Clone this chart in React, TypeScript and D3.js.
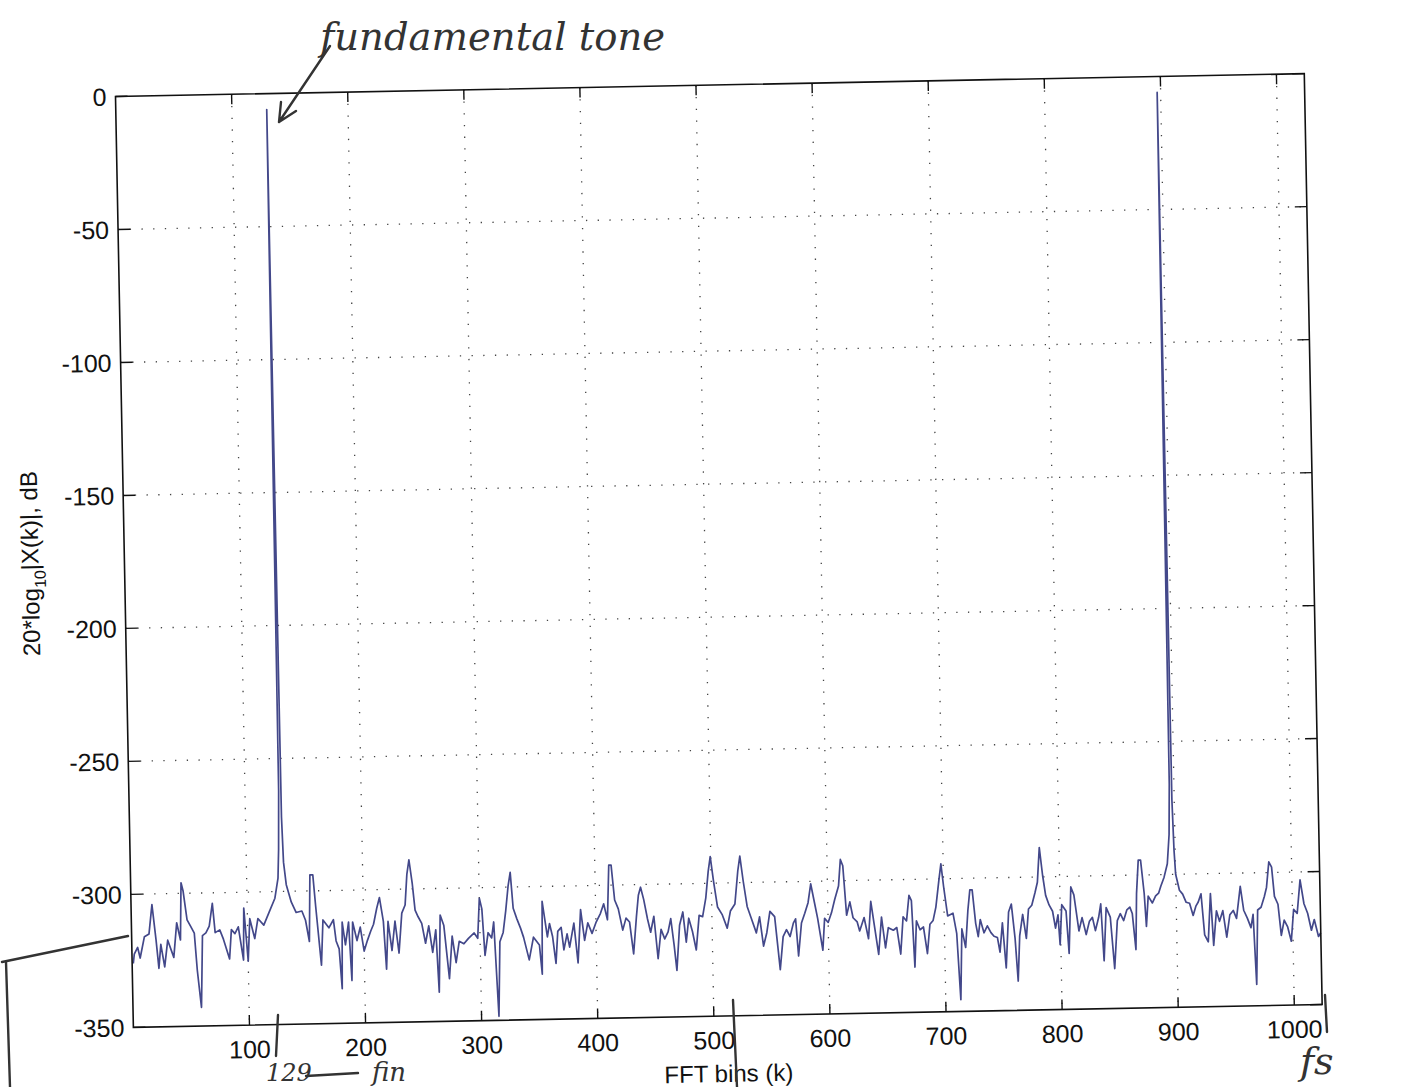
import React from 'react';
import * as d3 from 'd3';

// axis ticks
const xTicks = [100, 200, 300, 400, 500, 600, 700, 800, 900, 1000];
const yTicks = [0, -50, -100, -150, -200, -250, -300, -350];

// the two tones (fundamental + its mirror image)
const toneBins = [130, 897];
const toneDb = [-6, -6];

// noise floor, [bin, dB]
const floorA: [number, number][] = [
  [1, -326], [2, -322.5], [5, -320], [7, -324], [11, -316], [15, -315], [18, -304], [21, -317.5],
  [23, -328], [25, -319], [28, -327.5], [31, -317.5], [36, -324], [39, -311], [42, -317.5],
  [43.4, -296], [45, -299], [48, -310], [51, -312.5], [54, -315], [56, -329], [59, -343], [61, -316],
  [64, -315], [67, -312.5], [70, -304], [72, -315], [76, -314], [79, -317.5], [84, -325], [86, -314],
  [89, -315.5], [92, -313], [96, -325.5], [97, -306], [100, -326], [102, -310], [106, -317.5],
  [109, -310], [114, -312.5], [119, -307.5], [124, -302.5], [127, -295], [128, -284], [129, -262],
  [131, -272], [132, -289], [134, -297.5], [138, -304], [142, -308], [147, -307.5], [150, -311],
  [153, -319], [154.5, -294], [157, -294], [159, -306], [163, -328], [165, -311], [170, -314], [174, -311],
];

const floorB: [number, number][] = [
  [176, -319], [178.5, -322], [180.5, -337], [181.5, -312], [184, -320.5], [187, -312], [189, -334],
  [190.5, -312], [194, -319], [197, -314], [200, -323], [203, -319], [206, -315.5], [208.5, -313],
  [211.5, -307], [214, -303], [217, -312], [219, -330], [221, -312], [224, -323], [227, -312],
  [230, -324], [233, -309], [236, -306], [238, -294.5], [240, -289], [242.5, -298], [244.5, -308],
  [247, -310.5], [250, -313], [253, -320.5], [256, -314], [259, -324], [262, -315.5], [264, -339],
  [266, -310], [269, -314], [273, -334], [276, -318], [279, -328], [282, -320], [286, -321],
  [290, -319], [295, -317], [298, -319], [300, -304], [302, -308], [304, -325.5], [307, -317],
  [310, -319], [312, -313], [315, -348.5], [317, -320.5], [320, -317], [322.5, -309], [325, -299.5],
  [327, -294.5], [329, -308], [332, -312], [335, -315.5], [337.5, -319], [342, -327.5], [346, -319],
  [351, -322], [353, -333], [354, -305.6], [358, -319],
];

const floorC: [number, number][] = [
  [360, -314], [362.5, -319], [365, -329], [367, -317], [370, -315.5], [372, -324], [375, -318],
  [377, -323], [381, -314], [384, -329], [387, -309], [390, -320.6], [393, -314], [396.5, -318],
  [400, -314], [404, -310.6], [407, -307], [410, -313], [412, -292.5], [414, -292.5], [416.5, -305.6],
  [419.5, -309], [423, -317], [426, -312.5], [429, -314], [432, -326], [435, -312], [437, -304],
  [439, -301], [441.5, -305.6], [444.5, -313], [447, -318], [450, -312], [453, -328], [456, -317],
  [459, -320.6], [462, -318], [464.5, -313], [467, -323], [469, -332.5], [472, -315.6], [475, -310.6],
  [477.5, -322], [480, -313], [483, -318], [486, -325], [489, -312], [492, -312.5], [495, -305.6],
  [497.5, -295.6], [499.5, -290], [502, -299.4], [505, -309], [509, -312], [513, -317], [516, -310.6],
  [520, -308], [523, -295.6], [525, -290], [527.5, -299.4], [530.5, -309], [533.5, -313],
];

const floorD: [number, number][] = [
  [538, -319], [541, -313], [544, -324], [547, -319], [550, -311], [554, -313], [556, -323],
  [558, -333], [561, -320.6], [564, -318], [567, -320.6], [570, -315.6], [572, -314], [574, -328],
  [577, -315.6], [580, -312], [583, -308], [585.6, -301], [588.5, -308], [591, -314], [595, -326],
  [597, -314], [600, -315.6], [603, -312], [606, -307], [609.5, -302], [611.5, -292], [613.5, -294.4],
  [616, -313], [619, -308], [621.5, -314], [625, -315.6], [627, -319], [631, -314], [634.5, -322],
  [637, -308], [640, -318], [643, -328], [646, -314], [649, -325.6], [651.7, -318], [656, -319],
  [659, -318], [662, -328], [664.6, -314], [667.5, -315.6], [670, -306], [672, -308], [674, -333],
  [676, -315.6], [679, -319], [682, -318], [685, -328], [687.6, -317], [690.4, -315.6], [693, -310.6],
  [696, -300.6], [698, -294.4], [700, -303], [703, -314], [707.6, -313], [710.5, -320.6], [713, -345.6],
];

const floorE: [number, number][] = [
  [715, -319], [718, -326], [720.5, -312], [722.5, -304.4], [724.5, -304.4], [727, -317], [729, -322],
  [731, -315.6], [734, -320.6], [737, -318], [740, -320.6], [742.6, -322], [745.5, -322.5],
  [747.5, -328], [750, -317], [752.6, -334], [755.5, -313], [758, -310], [760.7, -323], [762.7, -339],
  [764.7, -322], [767.6, -314], [770.4, -323], [772.7, -312], [775.6, -310.6], [778.5, -306],
  [780.8, -302], [783, -289], [785.4, -299.4], [787.7, -307], [790.5, -310.6], [793.4, -313],
  [795.7, -319.4], [798, -314.4], [799.4, -325.6], [801.4, -310.6], [805, -313], [807, -329],
  [809.5, -304], [812, -307], [815.8, -320.6], [818.7, -315.6], [822, -322], [825, -317],
  [827.6, -315.6], [830, -320.6], [833, -315.6], [835, -310.6], [837, -332], [839.6, -312],
  [843, -315.6], [846, -335], [849, -317], [851.7, -314.4], [854.5, -317], [857.4, -313], [860, -312],
  [862, -314.4], [864.6, -328], [866, -307], [868, -294.4], [870, -294.4], [872.6, -307], [874, -319.4],
  [876, -308], [879.5, -310.6], [882.4, -308], [885, -307],
];

const floorF: [number, number][] = [
  [887, -304.4], [890, -301], [893, -296], [895, -285], [896, -266], [898, -272], [899, -291],
  [900, -300], [903, -306], [905.7, -307.5], [908.6, -310.6], [911.5, -311], [914.4, -315.6],
  [917, -312], [919, -310.6], [921.5, -307.5], [924, -323], [927, -325.6], [929.6, -307.5],
  [931.6, -327], [934.5, -314], [937, -318], [940, -314], [943, -324], [946, -315.6], [949, -314],
  [951.7, -317], [955.4, -305], [958, -314], [961, -317], [964, -320.6], [966, -315.6], [968, -342],
  [970, -314], [973, -313], [976, -309], [978, -305.6], [980.4, -296], [982.7, -298], [984.7, -309],
  [987.6, -312], [990, -323.7], [992.7, -318], [995.6, -320.6], [998.5, -326], [1001, -314],
  [1004, -315.6], [1007, -303], [1010, -312], [1013, -315.6], [1016, -322], [1018.6, -318],
  [1022, -324.4], [1024, -323],
];

const W = 1416;
const H = 1087;
// the scanned page is slightly tilted
const org = { x: 115.5, y: 96.5 };
const tilt = -1.1;
const pw = 1189;
const ph = 931;

const ink = '#333';
const hand = "'DejaVu Serif', serif";

export default function App() {
  const x = d3.scaleLinear().domain([0, 1024]).range([0, pw]);
  const y = d3.scaleLinear().domain([-350, 0]).range([ph, 0]);

  const pts: [number, number][] = [
    ...floorA, ...floorB, ...floorC, ...floorD, ...floorE, ...floorF,
    ...toneBins.map((k, i) => [k, toneDb[i]] as [number, number]),
  ].sort((a, b) => a[0] - b[0]);

  const line = d3.line<[number, number]>().x(d => x(d[0])).y(d => y(d[1]));

  return (
    <svg width={W} height={H} style={{ position: 'absolute', left: 0, top: 0, background: '#fff' }}
      fontFamily="'Liberation Sans', Arial, sans-serif">
      <rect width={W} height={H} fill="#fff" />
      <g transform={`translate(${org.x},${org.y}) rotate(${tilt})`}>
        {/* dotted grid */}
        <g stroke="#444" strokeWidth={1.3} strokeDasharray="1.3,10.4">
          {xTicks.map(t => <line key={'gx' + t} x1={x(t)} x2={x(t)} y1={0} y2={ph} />)}
          {yTicks.slice(1, -1).map(t => <line key={'gy' + t} x1={0} x2={pw} y1={y(t)} y2={y(t)} />)}
        </g>

        <path d={line(pts) || ''} fill="none" stroke="#43488a" strokeWidth={1.7} strokeLinejoin="round" />

        {/* frame + inward ticks */}
        <rect x={0} y={0} width={pw} height={ph} fill="none" stroke="#111" strokeWidth={1.6} />
        <g stroke="#111" strokeWidth={1.4}>
          {xTicks.map(t => (
            <g key={'tx' + t}>
              <line x1={x(t)} x2={x(t)} y1={ph} y2={ph - 10} />
              <line x1={x(t)} x2={x(t)} y1={0} y2={10} />
            </g>
          ))}
          {yTicks.map(t => (
            <g key={'ty' + t}>
              <line x1={0} x2={12} y1={y(t)} y2={y(t)} />
              <line x1={pw} x2={pw - 12} y1={y(t)} y2={y(t)} />
            </g>
          ))}
        </g>

        <g fontSize={25} fill="#111">
          {xTicks.map(t => (
            <text key={'lx' + t} x={x(t)} y={ph + 33} textAnchor="middle">{t}</text>
          ))}
          {yTicks.map(t => (
            <text key={'ly' + t} x={-9} y={y(t)} dy="0.36em" textAnchor="end">{t}</text>
          ))}
          <text x={pw / 2} y={ph + 66} textAnchor="middle" fontSize={24}>FFT bins (k)</text>
          <text transform={`translate(-86,${ph / 2}) rotate(-90)`} textAnchor="middle" fontSize={24}>
            20*log<tspan fontSize={16} dy={7}>10</tspan><tspan dy={-7}>|X(k)|, dB</tspan>
          </text>
        </g>
      </g>

      {/* handwritten notes on the scan */}
      <g fill="none" stroke={ink} strokeWidth={2.4} strokeLinecap="round">
        <path d="M330,46 L279,122 M279,122 L281,102 M279,122 L296,111" />
        <path d="M2,962 L128,936 M6,962 L10,1087" />
        <path d="M278,1015 L276,1056" />
        <path d="M306,1076 L358,1073" />
        <path d="M733,1000 L737,1087" />
        <path d="M1325,995 L1327,1032" />
      </g>
      <g fill={ink} fontFamily={hand} fontStyle="italic">
        <text x={320} y={50} fontSize={40} textLength={345} lengthAdjust="spacingAndGlyphs">fundamental tone</text>
        <text x={266} y={1081} fontSize={24}>129</text>
        <text x={372} y={1081} fontSize={26}>fin</text>
        <text x={1300} y={1074} fontSize={38}>fs</text>
      </g>
    </svg>
  );
}
